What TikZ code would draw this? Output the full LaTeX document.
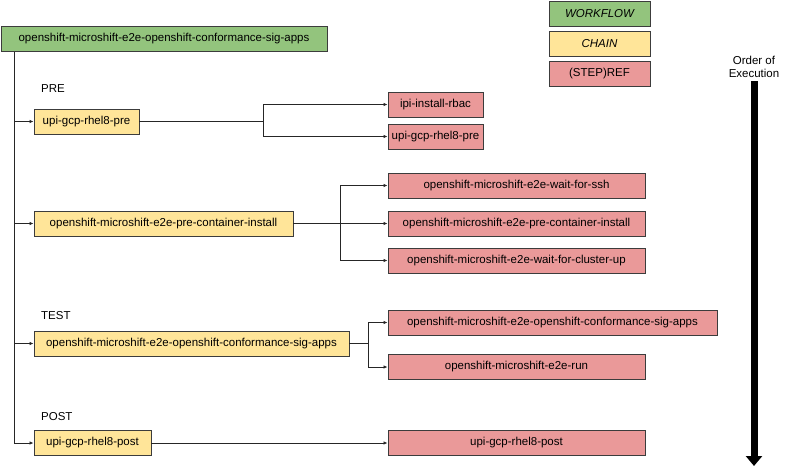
\documentclass[tikz,border=0pt]{standalone}
\usepackage{fontspec}
\setsansfont{Liberation Sans}
\usetikzlibrary{arrows.meta}
\definecolor{wfgreen}{HTML}{93C47D}
\definecolor{chainyellow}{HTML}{FFE599}
\definecolor{refred}{HTML}{EA9999}
\definecolor{boxedge}{HTML}{3C3C3C}

\begin{document}
\begin{tikzpicture}[x=1pt,y=-1pt,font=\sffamily\fontsize{11.5}{13}\selectfont,>={Latex[length=4pt,width=3.5pt]},
   box/.style={draw=boxedge,line width=0.9pt,inner sep=0pt,minimum height=25pt},
   wfbox/.style={box,fill=wfgreen},
   chainbox/.style={box,fill=chainyellow},
   refbox/.style={box,fill=refred},
   wire/.style={draw=black!85,line width=0.8pt},
   phase/.style={anchor=west,inner sep=0pt}]
   \useasboundingbox (0,0) rectangle (792,466);
   % Legend
   \node [wfbox,minimum width=101pt] (lgwf) at (599.5,13.5) {\itshape WORKFLOW};
   \node [chainbox,minimum width=101pt] (lgchain) at (599.5,43.5) {\itshape CHAIN};
   \node [refbox,minimum width=101pt] (lgref) at (599.5,74) {(STEP)REF};
   % Order of execution
   \node [align=center,inner sep=0pt] (order) at (754,66.5) {Order of\\Execution};
   \coordinate (orderend) at (754,466);
   \draw [line width=7pt,-{Triangle[length=10pt,width=16pt]}] ([yshift=-4pt]order.south) -- (orderend);
   % Workflow
   \node [wfbox,minimum width=326pt] (wf) at (164,39) {openshift-microshift-e2e-openshift-conformance-sig-apps};
   % Phase labels
   \node [phase] (prelbl) at (41,88.5) {PRE};
   \node [phase] (testlbl) at (41,316) {TEST};
   \node [phase] (postlbl) at (41,416.5) {POST};
   % Chains
   \node [chainbox,minimum width=105pt] (pre) at (86.5,121.5) {upi-gcp-rhel8-pre};
   \node [chainbox,minimum width=259pt] (install) at (163.5,223.5) {openshift-microshift-e2e-pre-container-install};
   \node [chainbox,minimum width=315pt] (conf) at (191.5,343.5) {openshift-microshift-e2e-openshift-conformance-sig-apps};
   \node [chainbox,minimum width=117pt] (post) at (92.5,443) {upi-gcp-rhel8-post};
   % Steps
   \node [refbox,minimum width=95pt] (rbac) at (435.5,104.5) {ipi-install-rbac};
   \node [refbox,minimum width=95pt] (gcppre) at (435.5,136.5) {upi-gcp-rhel8-pre};
   \node [refbox,minimum width=257pt] (ssh) at (516.5,185.5) {openshift-microshift-e2e-wait-for-ssh};
   \node [refbox,minimum width=257pt] (pci) at (516.5,223.5) {openshift-microshift-e2e-pre-container-install};
   \node [refbox,minimum width=257pt] (clusterup) at (516.5,260.5) {openshift-microshift-e2e-wait-for-cluster-up};
   \node [refbox,minimum width=329pt] (confref) at (552.5,322.5) {openshift-microshift-e2e-openshift-conformance-sig-apps};
   \node [refbox,minimum width=257pt] (run) at (516.5,367) {openshift-microshift-e2e-run};
   \node [refbox,minimum width=257pt] (postref) at (516.5,443) {upi-gcp-rhel8-post};
   % Trunk from workflow to chains
   \coordinate (trunk) at (14,443);
   \draw [wire] (trunk |- wf.south) -- (trunk);
   \foreach \c in {pre,install,conf,post}
      \draw [wire,->] (trunk |- \c.west) -- (\c.west);
   % Forks from chains to steps
   \coordinate (prefork) at (263,0);
   \coordinate (installfork) at (340,0);
   \coordinate (conffork) at (368,0);
   \draw [wire] (pre.east) -- (prefork |- pre.east);
   \draw [wire,->] (prefork |- pre.east) |- (rbac.west);
   \draw [wire,->] (prefork |- pre.east) |- (gcppre.west);
   \draw [wire,->] (install.east) -- (pci.west);
   \draw [wire,->] (installfork |- install.east) |- (ssh.west);
   \draw [wire,->] (installfork |- install.east) |- (clusterup.west);
   \draw [wire] (conf.east) -- (conffork |- conf.east);
   \draw [wire,->] (conffork |- conf.east) |- (confref.west);
   \draw [wire,->] (conffork |- conf.east) |- (run.west);
   \draw [wire,->] (post.east) -- (postref.west);
\end{tikzpicture}
\end{document}
